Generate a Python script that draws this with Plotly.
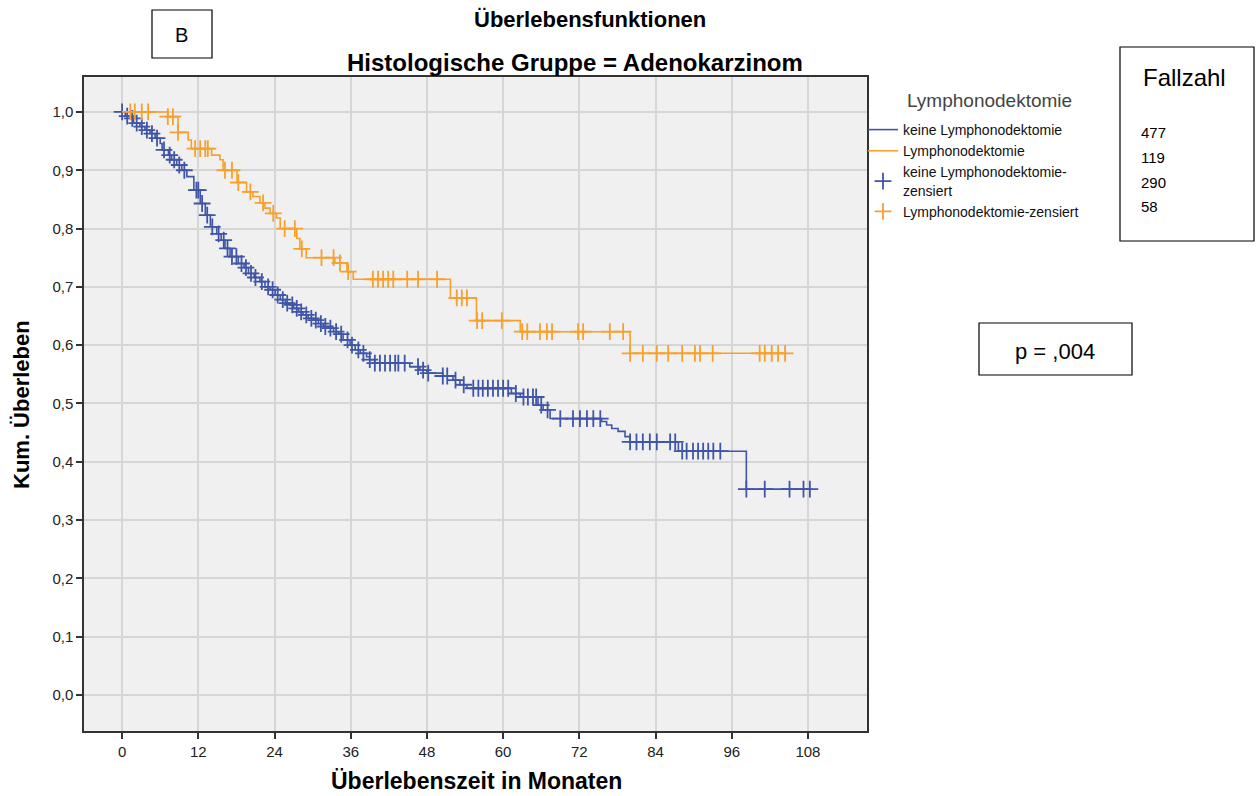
import numpy as np
import plotly.graph_objects as go

# ---------------- data ----------------
# Lymphonodektomie (orange): event times (months) and survival after each event
lnd_event_t = [7.2, 8.8, 10.4, 10.9, 14.1, 15.4, 15.9, 18.1, 19.6, 20.6, 21.7, 22.5, 23.3,
               24.3, 24.9, 27.5, 28.0, 29.0, 33.5, 35.4, 36.4, 51.7, 55.8, 62.7, 80.0]
lnd_event_s = [0.992, 0.965, 0.952, 0.937, 0.926, 0.918, 0.900, 0.879, 0.863, 0.855, 0.844,
               0.835, 0.826, 0.818, 0.800, 0.783, 0.765, 0.750, 0.741, 0.726, 0.713, 0.681,
               0.642, 0.623, 0.586]
lnd_censor_t = [1.3, 2.0, 3.1, 4.1, 7.2, 8.0, 8.8, 11.5, 12.3, 13.1, 13.5, 16.2, 17.3, 18.3,
                20.2, 22.2, 23.8, 25.6, 27.2, 28.3, 31.4, 33.3, 34.3, 35.6, 39.5, 40.3, 41.1,
                41.9, 42.7, 44.9, 46.6, 49.6, 52.7, 53.5, 54.3, 55.9, 56.7, 59.8, 63.0, 63.8,
                65.8, 66.9, 67.7, 71.8, 72.6, 76.8, 78.9, 80.0, 82.0, 84.2, 86.0, 88.2, 90.2,
                91.0, 93.0, 100.4, 101.2, 102.3, 103.3, 104.4]

# keine Lymphonodektomie (blue)
kl_event_t = [0.5, 1.3, 1.8, 2.8, 3.6, 4.4, 5.2, 6.0, 6.3, 7.3, 7.8, 8.6, 9.4, 10.2, 11.3,
              12.3, 13.1, 13.9, 14.9, 15.6, 16.2, 17.0, 18.3, 19.2, 19.9, 20.8, 21.7, 22.5,
              23.3, 24.1, 24.9, 25.7, 26.4, 27.0, 27.8, 28.5, 29.3, 30.1, 30.9, 31.7, 32.5,
              33.3, 34.1, 34.8, 35.9, 36.7, 37.5, 38.5, 39.0, 39.8, 45.3, 46.9, 48.0, 50.5,
              52.1, 53.2, 54.3, 61.3, 62.7, 65.5, 66.3, 67.4, 75.5, 76.3, 77.1, 78.1, 79.2,
              80.0, 87.6, 98.3]
kl_event_s = [0.993, 0.989, 0.981, 0.975, 0.969, 0.963, 0.955, 0.946, 0.935, 0.926, 0.918,
              0.909, 0.900, 0.889, 0.866, 0.843, 0.823, 0.803, 0.791, 0.780, 0.766, 0.752,
              0.740, 0.733, 0.723, 0.716, 0.709, 0.700, 0.695, 0.686, 0.678, 0.672, 0.669,
              0.663, 0.657, 0.652, 0.646, 0.643, 0.637, 0.632, 0.629, 0.623, 0.619, 0.609,
              0.600, 0.592, 0.586, 0.580, 0.575, 0.569, 0.563, 0.557, 0.552, 0.547, 0.540,
              0.532, 0.526, 0.517, 0.511, 0.497, 0.489, 0.474, 0.469, 0.463, 0.457, 0.452,
              0.443, 0.434, 0.418, 0.353]
kl_censor_t = [0.0, 0.8, 1.6, 2.3, 3.1, 3.9, 4.7, 5.5, 6.6, 7.5, 8.2, 9.0, 9.8, 11.7, 12.0,
               12.6, 13.4, 14.2, 15.2, 16.0, 16.6, 17.3, 18.0, 18.8, 19.5, 20.3, 21.0, 22.0,
               23.0, 23.7, 24.5, 25.3, 26.0, 26.8, 27.5, 28.2, 29.0, 29.8, 30.5, 31.3, 32.0,
               32.8, 33.7, 34.5, 35.5, 36.2, 37.2, 38.0, 39.0, 39.8, 40.6, 41.4, 42.2, 43.0,
               43.5, 44.5, 46.6, 47.4, 48.2, 50.5, 51.2, 52.5, 53.8, 55.3, 56.1, 56.8, 57.6,
               58.4, 59.2, 60.0, 60.8, 62.0, 63.2, 63.9, 64.7, 65.2, 66.0, 67.0, 69.0, 71.0,
               72.1, 73.2, 74.2, 75.3, 80.0, 81.0, 82.0, 83.1, 84.2, 86.3, 87.1, 88.2, 88.9,
               89.9, 90.7, 91.5, 92.3, 93.1, 94.2, 98.3, 101.2, 105.1, 107.3, 108.3]

x_ticks = [0, 12, 24, 36, 48, 60, 72, 84, 96, 108]
y_ticks = [0.0, 0.1, 0.2, 0.3, 0.4, 0.5, 0.6, 0.7, 0.8, 0.9, 1.0]
fallzahl = ["477", "119", "290", "58"]

BLUE = "#3f55a8"
ORANGE = "#f7a02c"
FONT = "Liberation Sans, Arial, sans-serif"


def step_xy(ev_t, ev_s, last_t):
    xs = [0.0] + list(ev_t) + [last_t]
    ys = [1.0] + list(ev_s) + [ev_s[-1]]
    return xs, ys


def surv_at(ev_t, ev_s, times):
    idx = np.searchsorted(np.array(ev_t), np.array(times), side="right")
    levels = np.concatenate([[1.0], np.array(ev_s)])
    return levels[idx]


kl_x, kl_y = step_xy(kl_event_t, kl_event_s, max(kl_censor_t))
lnd_x, lnd_y = step_xy(lnd_event_t, lnd_event_s, max(lnd_censor_t))

fig = go.Figure()
fig.add_trace(go.Scatter(x=kl_x, y=kl_y, mode="lines", line=dict(color=BLUE, width=1.6, shape="hv"),
                         name="keine Lymphonodektomie"))
fig.add_trace(go.Scatter(x=lnd_x, y=lnd_y, mode="lines", line=dict(color=ORANGE, width=1.6, shape="hv"),
                         name="Lymphonodektomie"))
fig.add_trace(go.Scatter(x=kl_censor_t, y=surv_at(kl_event_t, kl_event_s, kl_censor_t), mode="markers",
                         marker=dict(symbol="cross-thin", size=12, line=dict(color=BLUE, width=1.8)),
                         name="keine Lymphonodektomie-<br>zensiert"))
fig.add_trace(go.Scatter(x=lnd_censor_t, y=surv_at(lnd_event_t, lnd_event_s, lnd_censor_t), mode="markers",
                         marker=dict(symbol="cross-thin", size=12, line=dict(color=ORANGE, width=1.8)),
                         name="Lymphonodektomie-zensiert"))

L, R, T, B = 84, 867, 77, 731
W, H = 1257, 796


def pxx(x):
    return (x - L) / (R - L)


def pxy(y):
    return (B - y) / (B - T)


axis_common = dict(showgrid=True, gridcolor="#d6d6d6", gridwidth=1.5, zeroline=False,
                   showline=True, linecolor="#333333", linewidth=1.5, mirror=True,
                   ticks="outside", ticklen=6, tickcolor="#333333", tickwidth=1.5,
                   tickfont=dict(family=FONT, size=15, color="#222222"))

fig.update_xaxes(range=[-6, 117.3], tickvals=x_ticks, ticktext=[str(v) for v in x_ticks], **axis_common)
fig.update_yaxes(range=[-0.062, 1.06], tickvals=y_ticks, tickformat=".1f", **axis_common)

annotations = [
    dict(text="<b>Überlebensfunktionen</b>", x=pxx(590), y=pxy(20), font=dict(size=22)),
    dict(text="<b>Histologische Gruppe = Adenokarzinom</b>", x=pxx(575), y=pxy(62), font=dict(size=24)),
    dict(text="<b>Überlebenszeit in Monaten</b>", x=pxx(476), y=pxy(781), font=dict(size=23)),
    dict(text="<b>Kum. Überleben</b>", x=pxx(22), y=pxy(405), font=dict(size=22), textangle=-90),
    dict(text="B", x=pxx(181), y=pxy(35), font=dict(size=20)),
    dict(text="Fallzahl", x=pxx(1184), y=pxy(77), font=dict(size=24)),
    dict(text="p = ,004", x=pxx(1055), y=pxy(351), font=dict(size=22)),
    dict(text="Lymphonodektomie", x=pxx(905), y=pxy(100), xanchor="left",
         font=dict(size=19, color="#444444")),
]
for i, (val, yy) in enumerate(zip(fallzahl, [133, 157, 182, 206])):
    annotations.append(dict(text=val, x=pxx(1139), y=pxy(yy), xanchor="left", font=dict(size=15)))
for a in annotations:
    a.setdefault("xanchor", "center")
    a.update(xref="paper", yref="paper", showarrow=False, yanchor="middle")
    a["font"].setdefault("color", "#000000")
    a["font"].update(family=FONT)

shapes = []
for (x0, y0, x1, y1) in [(152, 10, 212, 58), (1120, 47, 1254, 241), (979, 323, 1132, 375)]:
    shapes.append(dict(type="rect", xref="paper", yref="paper", x0=pxx(x0), x1=pxx(x1),
                       y0=pxy(y1), y1=pxy(y0), line=dict(color="#000000", width=1.2),
                       fillcolor="rgba(0,0,0,0)"))

fig.update_layout(
    width=W, height=H,
    margin=dict(l=L, r=W - R, t=T, b=H - B, autoexpand=False),
    paper_bgcolor="#ffffff", plot_bgcolor="#f0f0f0",
    separators=",.",
    font=dict(family=FONT, color="#000000"),
    annotations=annotations, shapes=shapes,
    legend=dict(x=pxx(863), y=pxy(114), xanchor="left", yanchor="top",
                bgcolor="rgba(0,0,0,0)", tracegroupgap=0, itemwidth=30,
                font=dict(family=FONT, size=14, color="#111111")),
)

fig.write_html("out.html", config={"displayModeBar": False},
               post_script="document.body.style.margin='0px';document.body.style.overflow='hidden';")
